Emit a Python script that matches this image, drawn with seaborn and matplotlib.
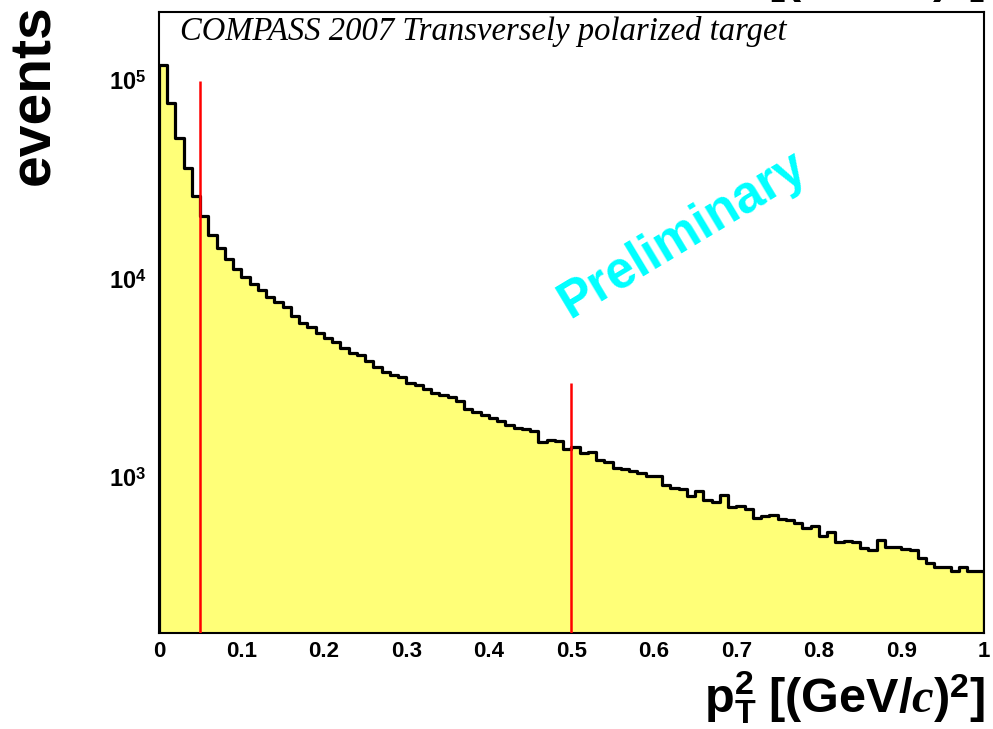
import numpy as np
import pandas as pd
import matplotlib
matplotlib.use("Agg")
import matplotlib.pyplot as plt
import seaborn as sns
from matplotlib.ticker import FixedLocator, FixedFormatter, LogLocator, NullFormatter

# Histogram binning: 100 bins of 0.01 (GeV/c)^2 on [0, 1]
x_lo, x_hi, n_bins = 0.0, 1.0, 100

# Events per bin
events = [
    120000, 77200, 51300, 36200, 26200, 20900, 16800, 14300, 12700, 11300,
    10270, 9470, 8830, 8140, 7710, 7230, 6540, 6050, 5730, 5350,
    5050, 4850, 4490, 4240, 4160, 3850, 3630, 3425, 3297, 3233,
    2995, 2940, 2790, 2670, 2615, 2565, 2440, 2220, 2150, 2060,
    1990, 1930, 1840, 1790, 1750, 1710, 1515, 1555, 1530, 1395,
    1420, 1335, 1350, 1230, 1205, 1118, 1109, 1087, 1050, 1022,
    1022, 918, 890, 872, 804, 859, 771, 750, 820, 710,
    722, 697, 623, 638, 651, 617, 614, 591, 561, 572,
    506, 531, 472, 477, 475, 442, 434, 485, 448, 446,
    435, 434, 392, 373, 356, 356, 337, 356, 339, 339,
]

# Kinematic cuts marked on the plot
cut_positions = [0.05, 0.5]
cut_heights = [1.0e5, 3.0e3]

x_ticks = [0.0, 0.1, 0.2, 0.3, 0.4, 0.5, 0.6, 0.7, 0.8, 0.9, 1.0]
x_tick_labels = ["0", "0.1", "0.2", "0.3", "0.4", "0.5", "0.6", "0.7", "0.8", "0.9", "1"]
y_ticks = [1e3, 1e4, 1e5]
y_tick_labels = [r"$10^{3}$", r"$10^{4}$", r"$10^{5}$"]
y_range = (165, 2.22e5)

sns.set_style("white")
plt.rcParams.update({
    "font.family": ["Liberation Sans", "DejaVu Sans"],
    "font.weight": "bold",
    "text.color": "black",
    "xtick.color": "black",
    "ytick.color": "black",
    "mathtext.fontset": "custom",
    "mathtext.rm": "Liberation Sans:bold",
    "mathtext.bf": "Liberation Sans:bold",
    "mathtext.sf": "Liberation Sans:bold",
    "mathtext.it": "Liberation Serif:italic",
})

bin_width = (x_hi - x_lo) / n_bins
centers = x_lo + bin_width * (np.arange(n_bins) + 0.5)
df = pd.DataFrame({"pt2": centers, "events": events})

fig = plt.figure(figsize=(9.93, 7.29), dpi=100)
ax = fig.add_axes([0.1601, 0.1317, 0.8308, 0.8518])

sns.histplot(
    data=df, x="pt2", weights="events", bins=n_bins, binrange=(x_lo, x_hi),
    element="step", fill=True, alpha=1,
    facecolor="#ffff78", edgecolor="black", linewidth=2.3, ax=ax,
)
ax.set_yscale("log")
ax.set_xlim(x_lo, x_hi)
ax.set_ylim(*y_range)

ax.vlines(cut_positions, y_range[0], cut_heights, colors="red", linewidth=1.8, zorder=5)

ax.xaxis.set_major_locator(FixedLocator(x_ticks))
ax.xaxis.set_major_formatter(FixedFormatter(x_tick_labels))
ax.yaxis.set_major_locator(FixedLocator(y_ticks))
ax.yaxis.set_major_formatter(FixedFormatter(y_tick_labels))
ax.yaxis.set_minor_locator(LogLocator(base=10, subs=np.arange(2, 10)))
ax.yaxis.set_minor_formatter(NullFormatter())
ax.tick_params(axis="both", which="both", direction="in", top=False, right=False,
               colors="black", labelcolor="black", width=1.0, labelsize=16)
ax.tick_params(axis="x", which="major", length=6, pad=6)
ax.tick_params(axis="y", which="major", length=7, pad=9, labelsize=17)
ax.tick_params(axis="y", which="minor", length=3.5)
for spine in ax.spines.values():
    spine.set_color("black")
    spine.set_linewidth(1.5)
ax.set_xlabel("")
ax.set_ylabel("")
ax.grid(False)

fig.text(180 / 993, 1 - 40 / 729, "COMPASS 2007 Transversely polarized target",
         family="Liberation Serif", style="italic", fontweight="normal",
         fontsize=23.5, va="baseline", ha="left", color="black")

fig.text(0.688, 0.678, "Preliminary", color="#00ffff", rotation=31,
         rotation_mode="anchor", ha="center", va="center",
         fontsize=37, fontweight="bold")

fig.text(0.034, 0.994, "events", rotation=90, ha="center", va="top",
         fontsize=41, fontweight="bold", color="black")

fig.text(985 / 993, 1 - 713 / 729,
         r"$\mathrm{p}_{\mathrm{T}}^{2}\ [(\mathrm{GeV}/\mathit{c})^{2}]$",
         ha="right", va="baseline", fontsize=35, color="black")

fig.text(985 / 993, 1 + 7 / 729,
         r"$[(\mathrm{GeV}/\mathit{c})^{2}]$",
         ha="right", va="baseline", fontsize=35, color="black")

fig.savefig("out.png", dpi=100)
